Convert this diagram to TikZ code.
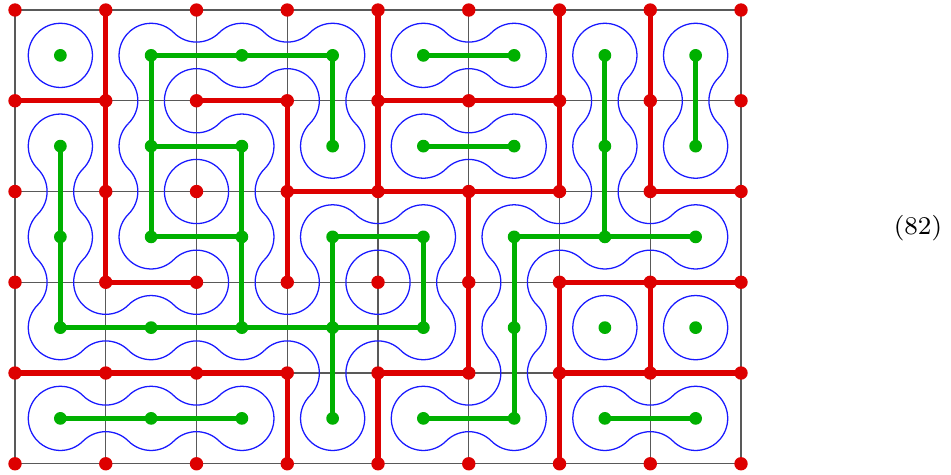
\documentclass[tikz,border=0pt]{standalone}
\definecolor{tred}{RGB}{221,0,0}
\definecolor{tgreen}{RGB}{0,176,0}
\definecolor{tblue}{RGB}{25,25,255}
\begin{document}
\begin{tikzpicture}[x=1cm,y=1cm,
  gridline/.style={black!65, line width=0.45pt},
  loopline/.style={tblue, line width=0.4pt},
  redline/.style={tred, line width=1.6pt},
  greenline/.style={tgreen, line width=1.5pt},
  reddot/.style={circle, fill=tred, inner sep=0pt, minimum size=4.2pt},
  greendot/.style={circle, fill=tgreen, inner sep=0pt, minimum size=4pt}]
\useasboundingbox (-0.1653,0.1102) rectangle (10.314,-5.113);
\def\r{0.353553}
% grid
\draw[gridline] (0,0) grid (8,-5);
% ---- blue loops: arcs around cell centres (red or boundary sides)
\foreach \i/\j in {0/1,1/3,2/1,3/2,4/2,5/2,4/1,5/1,7/2,4/4,0/4,1/4,2/4,6/3,7/3,6/4,7/4}{
  \draw[loopline] ({\i+0.5},{-\j+0.5}) ++(225:\r) arc[start angle=225,end angle=315,radius=\r];
  \draw[loopline] ({\i+0.5},{-\j-0.5}) ++(45:\r) arc[start angle=45,end angle=135,radius=\r];
}
\foreach \i/\j in {1/0,1/1,1/2,3/1,3/2,4/0,4/1,6/0,6/1,7/0,7/1,5/2,5/3,4/4,3/4,6/3,6/4,7/3}{
  \draw[loopline] ({\i-0.5},{-\j-0.5}) ++(-45:\r) arc[start angle=-45,end angle=45,radius=\r];
  \draw[loopline] ({\i+0.5},{-\j-0.5}) ++(135:\r) arc[start angle=135,end angle=225,radius=\r];
}
\foreach \a in {0,...,7}{
  \draw[loopline] ({\a+0.5},-0.5) ++(45:\r) arc[start angle=45,end angle=135,radius=\r];
  \draw[loopline] ({\a+0.5},-4.5) ++(225:\r) arc[start angle=225,end angle=315,radius=\r];
}
\foreach \b in {0,...,4}{
  \draw[loopline] (0.5,{-\b-0.5}) ++(135:\r) arc[start angle=135,end angle=225,radius=\r];
  \draw[loopline] (7.5,{-\b-0.5}) ++(-45:\r) arc[start angle=-45,end angle=45,radius=\r];
}
% ---- blue loops: arcs around vertices (sides crossed by green)
\foreach \a/\b in {1/0,2/0,4/0,1/1,4/1,1/2,3/2,5/2,6/2,0/3,1/3,2/3,3/3,0/4,1/4,4/4,6/4}{
  \draw[loopline] ({\a+1},{-\b}) ++(225:\r) arc[start angle=225,end angle=315,radius=\r];
  \draw[loopline] ({\a+1},{-\b-1}) ++(45:\r) arc[start angle=45,end angle=135,radius=\r];
}
\foreach \a/\b in {1/0,1/1,3/0,6/0,6/1,7/0,0/1,0/2,2/1,2/2,3/2,3/3,4/2,5/2,5/3}{
  \draw[loopline] ({\a},{-\b-1}) ++(-45:\r) arc[start angle=-45,end angle=45,radius=\r];
  \draw[loopline] ({\a+1},{-\b-1}) ++(135:\r) arc[start angle=135,end angle=225,radius=\r];
}
% ---- dots
\foreach \i in {0,...,8}{\foreach \j in {0,...,5}{
  \node[reddot] (v-\i-\j) at (\i,-\j) {};
}}
\foreach \a in {0,...,7}{\foreach \b in {0,...,4}{
  \node[greendot] (c-\a-\b) at ({\a+0.5},{-\b-0.5}) {};
}}
% ---- red edges
\foreach \i/\j [evaluate=\i as \k using int(\i+1)] in {0/1,1/3,2/1,3/2,4/2,5/2,4/1,5/1,7/2,4/4,0/4,1/4,2/4,6/3,7/3,6/4,7/4}{
  \draw[redline] (v-\i-\j.center) -- (v-\k-\j.center);
}
\foreach \i/\j [evaluate=\j as \k using int(\j+1)] in {1/0,1/1,1/2,3/1,3/2,4/0,4/1,6/0,6/1,7/0,7/1,5/2,5/3,4/4,3/4,6/3,6/4,7/3}{
  \draw[redline] (v-\i-\j.center) -- (v-\i-\k.center);
}
% ---- green edges
\foreach \a/\b [evaluate=\a as \k using int(\a+1)] in {1/0,2/0,4/0,1/1,4/1,1/2,3/2,5/2,6/2,0/3,1/3,2/3,3/3,0/4,1/4,4/4,6/4}{
  \draw[greenline] (c-\a-\b.center) -- (c-\k-\b.center);
}
\foreach \a/\b [evaluate=\b as \k using int(\b+1)] in {1/0,1/1,3/0,6/0,6/1,7/0,0/1,0/2,2/1,2/2,3/2,3/3,4/2,5/2,5/3}{
  \draw[greenline] (c-\a-\b.center) -- (c-\a-\k.center);
}
% ---- label
\node[font=\fontsize{8}{10}\selectfont] (eqnum) at (9.95,-2.40) {(82)};
\end{tikzpicture}
\end{document}
